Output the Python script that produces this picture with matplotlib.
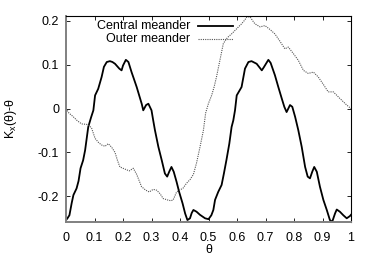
import numpy as np
import matplotlib
matplotlib.use('Agg')
import matplotlib.pyplot as plt

plt.rcParams['font.family'] = ['Liberation Sans', 'DejaVu Sans']

# central meander
theta_c = [0.000, 0.005, 0.012, 0.020, 0.026, 0.037, 0.044, 0.051, 0.060, 0.067,
           0.078, 0.088, 0.096, 0.102, 0.113, 0.125, 0.133, 0.143, 0.154, 0.163,
           0.172, 0.187, 0.195, 0.200, 0.210, 0.219, 0.230, 0.238, 0.248, 0.260,
           0.266, 0.271, 0.281, 0.289, 0.300, 0.306, 0.312, 0.324, 0.336, 0.347,
           0.355, 0.362, 0.370, 0.378, 0.388, 0.397, 0.409, 0.418, 0.426, 0.435,
           0.441, 0.447, 0.458, 0.470, 0.488, 0.500, 0.510, 0.517, 0.523, 0.534,
           0.546, 0.554, 0.563, 0.573, 0.581, 0.587, 0.593, 0.599, 0.616, 0.628,
           0.640, 0.651, 0.669, 0.687, 0.695, 0.710, 0.718, 0.733, 0.745, 0.757,
           0.766, 0.774, 0.786, 0.794, 0.804, 0.815, 0.827, 0.839, 0.848, 0.856,
           0.864, 0.871, 0.880, 0.891, 0.903, 0.915, 0.926, 0.934, 0.944, 0.950,
           0.961, 0.973, 0.985, 0.996, 1.000]
k_c = [-0.254, -0.250, -0.243, -0.215, -0.197, -0.182, -0.165, -0.136, -0.118, -0.095,
       -0.042, -0.020, -0.004, 0.030, 0.045, 0.072, 0.095, 0.106, 0.108, 0.106,
       0.102, 0.091, 0.087, 0.098, 0.111, 0.106, 0.083, 0.068, 0.049, 0.023,
       0.010, -0.004, 0.008, 0.011, -0.004, -0.027, -0.049, -0.087, -0.118, -0.148,
       -0.155, -0.144, -0.133, -0.144, -0.167, -0.190, -0.216, -0.239, -0.254, -0.250,
       -0.238, -0.231, -0.235, -0.242, -0.250, -0.252, -0.243, -0.231, -0.208, -0.190,
       -0.174, -0.148, -0.117, -0.080, -0.042, -0.027, -0.004, 0.030, 0.049, 0.091,
       0.106, 0.108, 0.102, 0.087, 0.095, 0.111, 0.104, 0.076, 0.049, 0.023,
       0.004, -0.008, 0.008, 0.004, -0.019, -0.049, -0.087, -0.133, -0.155, -0.159,
       -0.144, -0.133, -0.144, -0.178, -0.208, -0.231, -0.254, -0.258, -0.239, -0.230,
       -0.235, -0.243, -0.250, -0.245, -0.242]

# outer meander
theta_o = [0.000, 0.010, 0.026, 0.040, 0.055, 0.072, 0.080, 0.090, 0.102, 0.115,
           0.125, 0.137, 0.148, 0.160, 0.172, 0.180, 0.189, 0.207, 0.222, 0.236,
           0.248, 0.265, 0.280, 0.292, 0.306, 0.318, 0.330, 0.341, 0.355, 0.368,
           0.376, 0.388, 0.400, 0.410, 0.423, 0.435, 0.447, 0.458, 0.470, 0.482,
           0.490, 0.500, 0.511, 0.520, 0.528, 0.540, 0.552, 0.563, 0.572, 0.581,
           0.599, 0.616, 0.625, 0.634, 0.646, 0.655, 0.663, 0.681, 0.698, 0.716,
           0.733, 0.751, 0.768, 0.780, 0.798, 0.815, 0.833, 0.850, 0.868, 0.885,
           0.903, 0.920, 0.938, 0.961, 0.985, 1.000]
k_o = [0.000, -0.010, -0.019, -0.028, -0.035, -0.036, -0.038, -0.045, -0.068, -0.078,
       -0.083, -0.086, -0.080, -0.088, -0.100, -0.117, -0.133, -0.138, -0.142, -0.136,
       -0.150, -0.178, -0.186, -0.190, -0.184, -0.186, -0.194, -0.205, -0.208, -0.210,
       -0.208, -0.190, -0.185, -0.182, -0.170, -0.162, -0.150, -0.124, -0.088, -0.050,
       -0.010, 0.012, 0.030, 0.050, 0.072, 0.110, 0.148, 0.159, 0.165, 0.170,
       0.182, 0.193, 0.200, 0.208, 0.209, 0.200, 0.193, 0.186, 0.189, 0.180,
       0.170, 0.153, 0.136, 0.140, 0.125, 0.110, 0.087, 0.080, 0.083, 0.072,
       0.055, 0.038, 0.038, 0.023, 0.008, 0.000]

xticks = [0, 0.1, 0.2, 0.3, 0.4, 0.5, 0.6, 0.7, 0.8, 0.9, 1]
xtick_labels = ['0', '0.1', '0.2', '0.3', '0.4', '0.5', '0.6', '0.7', '0.8', '0.9', '1']
yticks = [-0.2, -0.1, 0, 0.1, 0.2]
ytick_labels = ['-0.2', '-0.1', '0', '0.1', '0.2']

fig = plt.figure(figsize=(3.74, 2.62), dpi=100)
ax = fig.add_axes([0.1765, 0.1527, 0.762, 0.786])

ax.plot(theta_c, k_c, color='black', lw=1.3)
ax.plot(theta_o, k_o, color='#555555', lw=0.8, ls=(0, (1, 1)))

ax.set_xlim(0, 1)
ax.set_ylim(-0.2584, 0.2107)
ax.set_xticks(xticks)
ax.set_xticklabels(xtick_labels)
ax.set_yticks(yticks)
ax.set_yticklabels(ytick_labels)
ax.tick_params(direction='in', length=3, width=0.6, top=True, right=True,
               labelsize=9)
ax.tick_params(axis='x', pad=7)
ax.tick_params(axis='y', pad=5)
for s in ['left', 'bottom']:
    ax.spines[s].set_color('#808080')
    ax.spines[s].set_linewidth(1.4)
for s in ['top', 'right']:
    ax.spines[s].set_linewidth(0.8)

ax.set_xlabel('θ', fontsize=9)
ax.xaxis.set_label_coords(0.5, -0.105)
ax.set_ylabel('K$_\\mathregular{x}$(θ)-θ', fontsize=9)
ax.yaxis.set_label_coords(-0.165, 0.5)

# gnuplot style key: text right aligned, sample line after it
ax.text(0.435, 0.954, 'Central meander', transform=ax.transAxes,
        ha='right', va='center', fontsize=9)
ax.text(0.435, 0.888, 'Outer meander', transform=ax.transAxes,
        ha='right', va='center', fontsize=9)
ax.plot([0.463, 0.586], [0.954, 0.954], transform=ax.transAxes,
        color='black', lw=1.3)
ax.plot([0.463, 0.586], [0.888, 0.888], transform=ax.transAxes,
        color='#555555', lw=0.8, ls=(0, (1, 1)))

fig.savefig('out.png', dpi=100)
